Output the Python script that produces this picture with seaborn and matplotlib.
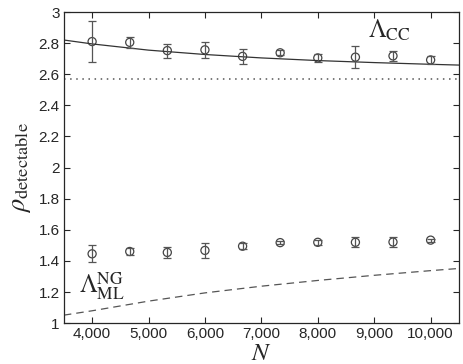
import numpy as np
import pandas as pd
import matplotlib
matplotlib.use("Agg")
import matplotlib.pyplot as plt
from matplotlib.ticker import FuncFormatter, MultipleLocator
import seaborn as sns

sns.set_style("ticks")
plt.rcParams["font.family"] = ["Liberation Sans", "DejaVu Sans"]
plt.rcParams["mathtext.fontset"] = "stix"

# measured points
n_vals = [4000, 4667, 5333, 6000, 6667, 7333, 8000, 8667, 9333, 10000]
cc_mean = [2.81, 2.805, 2.752, 2.757, 2.715, 2.738, 2.705, 2.71, 2.718, 2.692]
cc_err = [0.13, 0.035, 0.045, 0.05, 0.05, 0.015, 0.025, 0.07, 0.03, 0.025]
ng_mean = [1.446, 1.461, 1.455, 1.468, 1.495, 1.518, 1.52, 1.52, 1.522, 1.534]
ng_err = [0.055, 0.02, 0.035, 0.048, 0.02, 0.012, 0.018, 0.032, 0.035, 0.01]

# theory curves
n_curve = [3500, 4000, 5000, 6000, 7000, 8000, 9000, 10000, 10500]
cc_curve = [2.82, 2.795, 2.755, 2.727, 2.705, 2.688, 2.675, 2.664, 2.659]
ng_curve = [1.052, 1.08, 1.142, 1.195, 1.238, 1.275, 1.308, 1.338, 1.352]
cc_limit = 2.568

curves = pd.DataFrame({"N": n_curve, "cc": cc_curve, "ng": ng_curve})
pts = pd.DataFrame({"N": n_vals, "cc": cc_mean, "cc_err": cc_err,
                    "ng": ng_mean, "ng_err": ng_err})

fig = plt.figure(figsize=(4.63, 3.64), dpi=100)
ax = fig.add_axes([0.138, 0.112, 0.853, 0.855])

sns.lineplot(data=curves, x="N", y="cc", ax=ax, color="#333333", lw=0.9)
sns.lineplot(data=curves, x="N", y="ng", ax=ax, color="#555555", lw=0.9,
             linestyle=(0, (6, 4)))
ax.axhline(cc_limit, color="#555555", lw=1.1, linestyle=(0, (1, 3)))

for col in ["cc", "ng"]:
    ax.errorbar(pts["N"], pts[col], yerr=pts[col + "_err"], fmt="none",
                ecolor="#555555", elinewidth=0.9, capsize=3, capthick=0.9)
    sns.scatterplot(data=pts, x="N", y=col, ax=ax, marker="o", s=34,
                    facecolor="none", edgecolor="#444444", linewidth=0.9)

ax.set_xlim(3500, 10500)
ax.set_ylim(1, 3)
ax.xaxis.set_major_locator(MultipleLocator(1000))
ax.yaxis.set_major_locator(MultipleLocator(0.2))
ax.xaxis.set_major_formatter(FuncFormatter(lambda v, p: f"{int(v):,}"))
ax.yaxis.set_major_formatter(FuncFormatter(lambda v, p: f"{v:g}"))
ax.tick_params(direction="in", top=True, right=True, labelsize=11,
               length=4, width=0.8, pad=3)
for s in ax.spines.values():
    s.set_linewidth(0.9)

ax.set_xlabel(r"$N$", fontsize=18, labelpad=0)
ax.set_ylabel(r"$\rho_{\rm detectable}$", fontsize=19, labelpad=4)

ax.text(0.825, 0.94, r"$\Lambda_{\rm CC}$", transform=ax.transAxes,
        fontsize=18, ha="center", va="center")
ax.text(0.096, 0.12, r"$\Lambda_{\rm ML}^{\rm NG}$", transform=ax.transAxes,
        fontsize=18, ha="center", va="center")

fig.savefig("out.png", dpi=100)
